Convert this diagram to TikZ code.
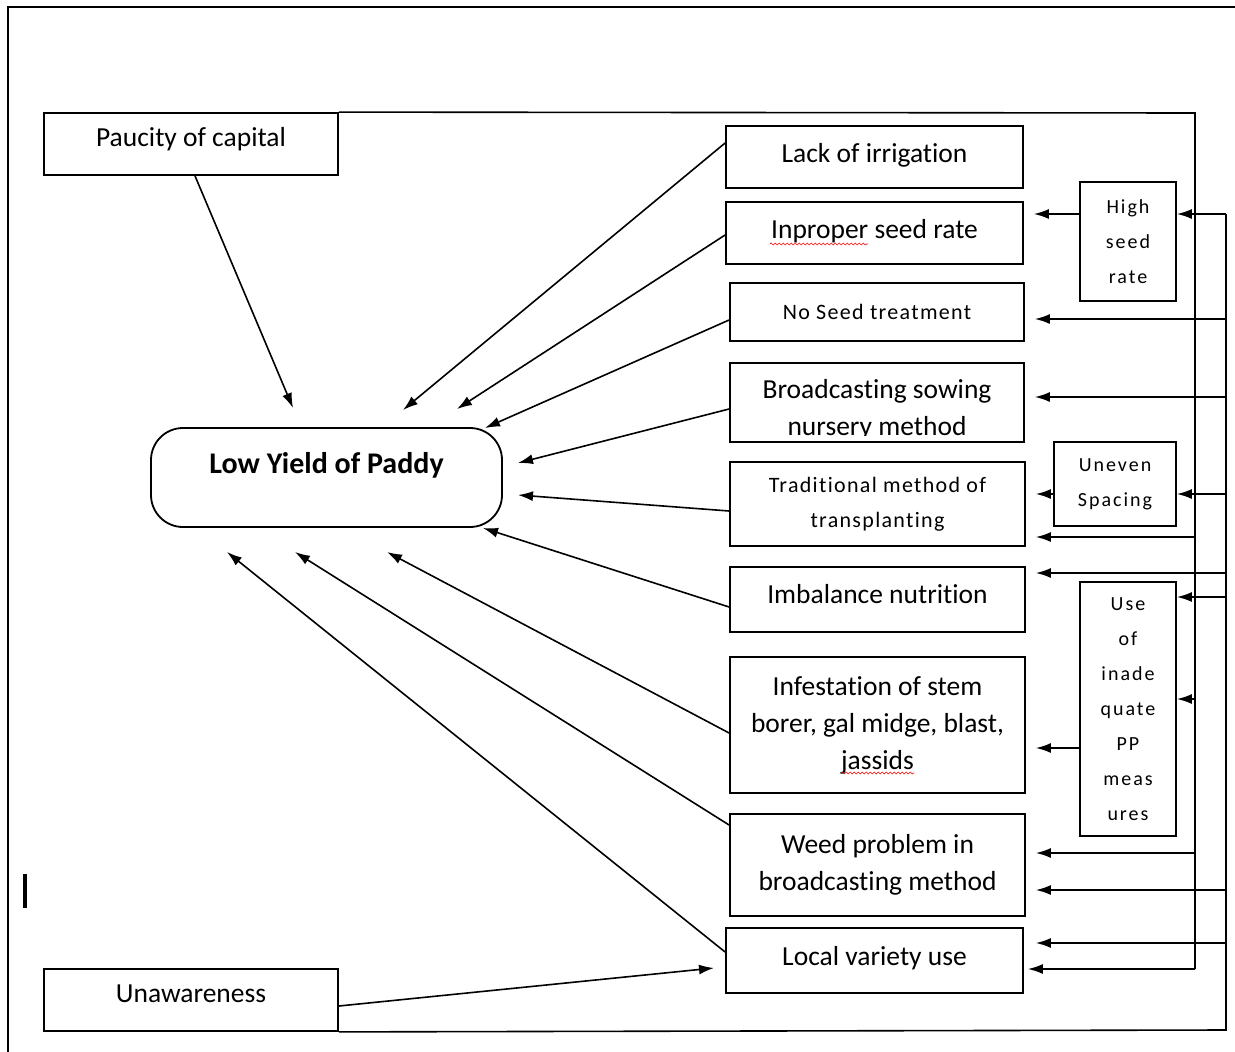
\documentclass[tikz,border=0pt]{standalone}
\usepackage{fontspec}
\setmainfont{Carlito}[Ligatures=NoCommon]
\newfontfamily\spc{Carlito}[LetterSpace=6,Ligatures=NoCommon]
\newfontfamily\spcw{Carlito}[LetterSpace=10,Ligatures=NoCommon]
\usetikzlibrary{arrows.meta,decorations.pathmorphing}
\begin{document}
\begin{tikzpicture}[x=1pt,y=-1pt,
 box/.style={draw,line width=1.8pt,rectangle,inner sep=0pt,align=center,font=\fontsize{27.5}{37}\selectfont},
 one/.style={text height=19pt,text depth=9pt},
 sbox/.style={box,font=\spc\fontsize{22}{35}\selectfont},
 rbox/.style={box,font=\spcw\fontsize{20}{35}\selectfont},
 arr/.style={line width=1.6pt,-{Latex[length=15pt,width=10pt]}},
 bus/.style={line width=1.6pt},
 wavy/.style={draw=red,line width=0.6pt,decorate,decoration={snake,amplitude=1pt,segment length=4pt}}]
\useasboundingbox[fill=white] (0,0) rectangle (1235,1052);
% outer frame
\draw[line width=1.8pt] (8,1052) -- (8,7) -- (1235,7);
% cursor mark
\draw[line width=3.5pt] (25,874) -- (25,908);

% left nodes
\node[box,one,text depth=15pt,minimum width=294pt,minimum height=62pt] (paucity) at (191,144) {Paucity of capital};
\node[box,one,text depth=15pt,minimum width=294pt,minimum height=62pt] (unaware) at (191,1000) {Unawareness};
\node[draw,line width=1.8pt,rounded corners=32pt,minimum width=351pt,minimum height=99pt,
  font=\bfseries\fontsize{30}{36}\selectfont,text height=20pt,text depth=29pt] (low) at (326.5,477.5) {Low Yield of Paddy};

% cause boxes
\node[box,one,minimum width=297pt,minimum height=62pt] (lack) at (874.5,157) {Lack of irrigation};
\node[box,one,minimum width=297pt,minimum height=62pt] (inproper) at (874.5,233) {Inproper seed rate};
\node[sbox,minimum width=294pt,minimum height=58pt] (noseed) at (877,312) {No Seed treatment};
\node[box,minimum width=294pt,minimum height=79pt] (broad) at (877,402.5) {};
\begin{scope}
\clip (730,363) rectangle (1024,435);
\node[align=center,font=\fontsize{27.5}{37}\selectfont,inner sep=0pt] (broadtxt) at (877,410) {Broadcasting sowing\\nursery method};
\end{scope}
\node[sbox,minimum width=295pt,minimum height=84pt] (trad) at (877.5,504) {Traditional method of\\transplanting};
\node[box,one,text depth=11pt,minimum width=295pt,minimum height=65pt] (imbal) at (877.5,599.5) {Imbalance nutrition};
\node[box,minimum width=295pt,minimum height=136pt] (infest) at (877.5,725) {Infestation of stem\\borer, gal midge, blast,\\jassids};
\node[box,minimum width=295pt,minimum height=102pt] (weed) at (877.5,865) {Weed problem in\\broadcasting method};
\node[box,one,minimum width=297pt,minimum height=65pt] (local) at (874.5,960.5) {Local variety use};

% spelling marks
\draw[wavy] (770,244) -- (868,244);
\draw[wavy] (841,773) -- (914,773);

% right boxes
\node[rbox,minimum width=96pt,minimum height=119pt] (high) at (1128,241.5) {High\\seed\\rate};
\node[rbox,minimum width=122pt,minimum height=84pt] (uneven) at (1115,484) {Uneven\\Spacing};
\node[rbox,minimum width=96pt,minimum height=254pt] (use) at (1128,709) {Use\\of\\inade\\quate\\PP\\meas\\ures};

% arrow tips at Low Yield
\coordinate (t1) at (293,408);
\coordinate (t2) at (403,410);
\coordinate (t3) at (457,409);
\coordinate (t4) at (485,428);
\coordinate (t5) at (518,463);
\coordinate (t6) at (518,495);
\coordinate (t7) at (483,528);
\coordinate (t8) at (387,552);
\coordinate (t9) at (295,552);
\coordinate (t10) at (227,552);
\coordinate (t11) at (714,968);

\draw[arr] ([xshift=4pt]paucity.south) -- (t1);
\draw[arr] ([yshift=14pt]lack.west) -- (t2);
\draw[arr] ([yshift=-2pt]inproper.west) -- (t3);
\draw[arr] ([yshift=-8pt]noseed.west) -- (t4);
\draw[arr] ([yshift=-6.5pt]broad.west) -- (t5);
\draw[arr] ([yshift=-7pt]trad.west) -- (t6);
\draw[arr] ([yshift=-7.5pt]imbal.west) -- (t7);
\draw[arr] ([yshift=-8pt]infest.west) -- (t8);
\draw[arr] ([yshift=40pt]weed.west) -- (t9);
\draw[arr] ([yshift=8.5pt]local.west) -- (t10);
\draw[arr] ([yshift=-6pt]unaware.east) -- (t11);

% bus coordinates
\coordinate (Mtop) at (1195,113);
\coordinate (M1) at (1195,537);
\coordinate (M2) at (1195,699);
\coordinate (M3) at (1195,853);
\coordinate (M4) at (1195,969);
\coordinate (R1) at (1226,214);
\coordinate (R2) at (1226,319);
\coordinate (R3) at (1226,397);
\coordinate (R4) at (1226,494);
\coordinate (R5) at (1226,573);
\coordinate (R6) at (1226,597);
\coordinate (R7) at (1226,890);
\coordinate (R8) at (1226,943);
\coordinate (Rbot) at (1226,1030);

\draw[bus] (paucity.north east) -- (Mtop) -- (M4);
\draw[bus] (unaware.south east) -- (Rbot) -- (R1);

% arrows from buses
\draw[arr] (R1) -- (R1 -| high.east);
\draw[arr,shorten >=10pt] (R2) -- (R2 -| noseed.east);
\draw[arr,shorten >=10pt] (R3) -- (R3 -| broad.east);
\draw[arr] (R4) -- (R4 -| uneven.east);
\draw[arr,shorten >=10pt] (M1) -- (M1 -| trad.east);
\draw[arr,shorten >=10pt] (R5) -- (R5 -| imbal.east);
\draw[arr] (R6) -- (R6 -| use.east);
\draw[arr] (M2) -- (M2 -| use.east);
\draw[arr,shorten >=10pt] (M3) -- (M3 -| weed.east);
\draw[arr,shorten >=10pt] (R7) -- (R7 -| weed.east);
\draw[arr,shorten >=12pt] (R8) -- (R8 -| local.east);
\draw[arr,shorten >=4pt] (M4) -- (M4 -| local.east);

% arrows from sub-cause boxes
\draw[arr,shorten >=10pt] (high.west |- R1) -- (R1 -| inproper.east);
\draw[arr,shorten >=10pt] (uneven.west |- R4) -- (R4 -| trad.east);
\draw[arr,shorten >=10pt] ([yshift=-39pt]use.west) -- ([yshift=-39pt]use.west -| infest.east);
\end{tikzpicture}
\end{document}
